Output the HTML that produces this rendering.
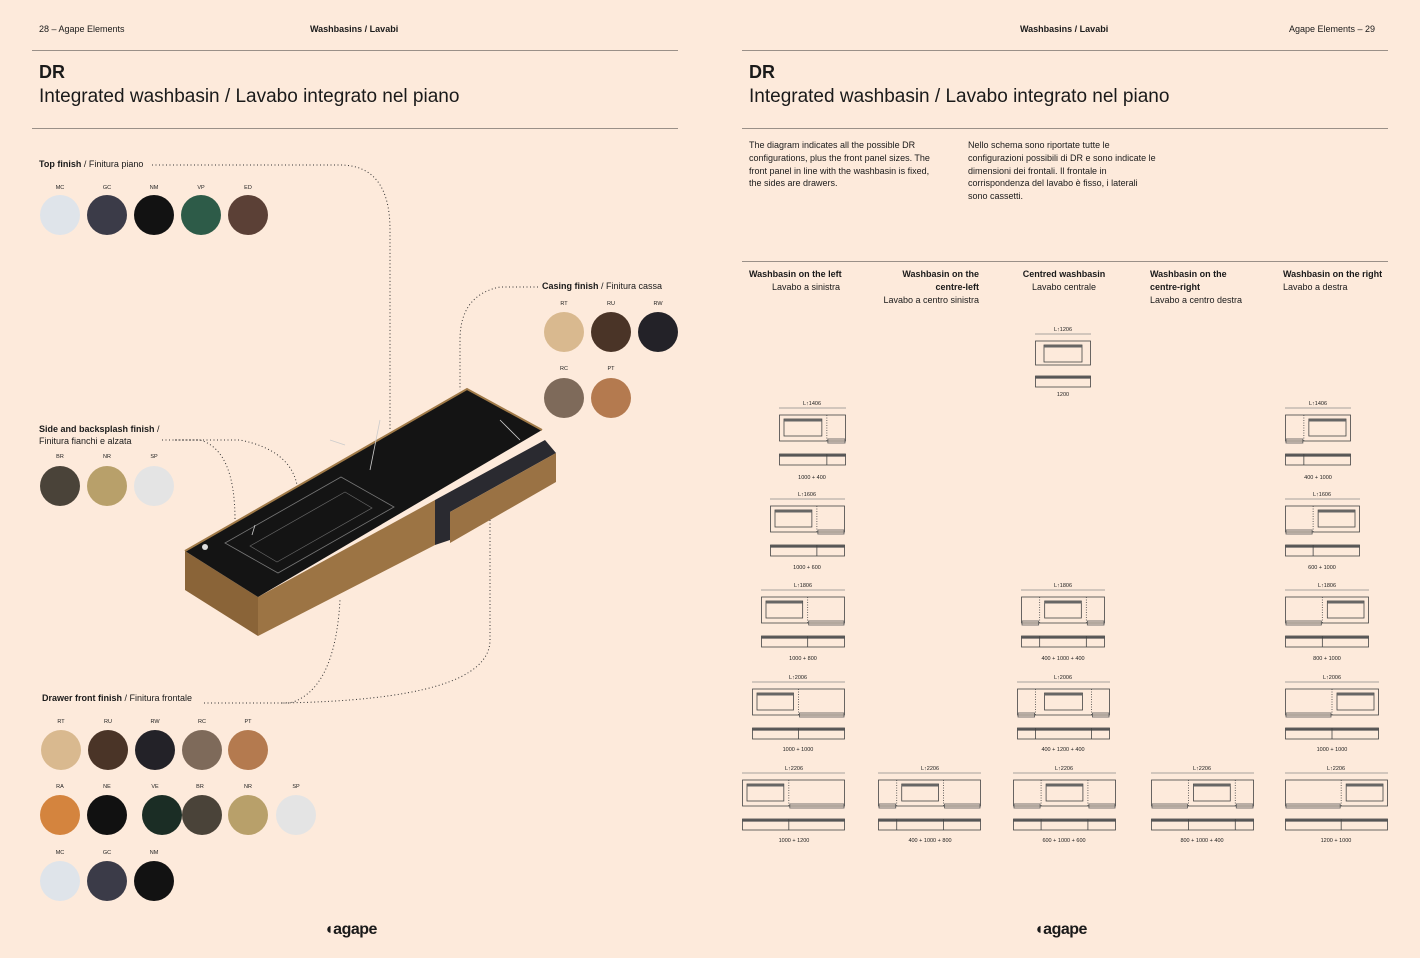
<!DOCTYPE html>
<html><head><meta charset="utf-8">
<style>
*{margin:0;padding:0;box-sizing:border-box}
body{width:1420px;height:958px;background:#fdeadb;font-family:"Liberation Sans",sans-serif;color:#1a1a1a;position:relative;overflow:hidden}
.t{position:absolute;white-space:nowrap}
.s9{font-size:9px}
.rule{position:absolute;height:1px;background:#9a9088}
.h1{font-size:18px;font-weight:bold}
.h2{font-size:19px;font-weight:normal}
.lab{font-size:9px}
.lab b{font-weight:bold}
.body{font-size:9px;line-height:13px;white-space:normal}
.sw{position:absolute;width:40px;height:40px;border-radius:50%}
.col{position:absolute;font-size:9px;line-height:13px}
.logo{font-size:16px;font-weight:bold;letter-spacing:-0.5px}
</style></head><body>

<div class="t s9" style="left:39px;top:24px">28 – Agape Elements</div>
<div class="t s9" style="left:310px;top:24px;font-weight:bold">Washbasins / Lavabi</div>
<div class="t s9" style="left:1020px;top:24px;font-weight:bold">Washbasins / Lavabi</div>
<div class="t s9" style="left:1289px;top:24px">Agape Elements – 29</div>
<div class="rule" style="left:32px;top:50px;width:646px"></div>
<div class="rule" style="left:742px;top:50px;width:646px"></div>
<div class="t h1" style="left:39px;top:62px">DR</div>
<div class="t h2" style="left:39px;top:86px">Integrated washbasin / Lavabo integrato nel piano</div>
<div class="t h1" style="left:749px;top:62px">DR</div>
<div class="t h2" style="left:749px;top:86px">Integrated washbasin / Lavabo integrato nel piano</div>
<div class="rule" style="left:32px;top:128px;width:646px"></div>
<div class="rule" style="left:742px;top:128px;width:646px"></div>

<div class="t body" style="left:749px;top:139px;width:190px;line-height:12.8px">The diagram indicates all the possible DR configurations, plus the front panel sizes. The front panel in line with the washbasin is fixed, the sides are drawers.</div>
<div class="t body" style="left:968px;top:139px;width:190px;line-height:12.8px">Nello schema sono riportate tutte le configurazioni possibili di DR e sono indicate le dimensioni dei frontali. Il frontale in corrispondenza del lavabo è fisso, i laterali sono cassetti.</div>
<div class="rule" style="left:742px;top:261px;width:646px"></div>

<div class="col" style="left:749px;top:268px"><b>Washbasin on the left</b><br><span style="padding-left:23px">Lavabo a sinistra</span></div>
<div class="col" style="left:878px;top:268px;text-align:right;width:101px"><b>Washbasin on the<br>centre-left</b><br>Lavabo a centro sinistra</div>
<div class="col" style="left:1010px;top:268px;text-align:center;width:108px"><b>Centred washbasin</b><br>Lavabo centrale</div>
<div class="col" style="left:1150px;top:268px"><b>Washbasin on the<br>centre-right</b><br>Lavabo a centro destra</div>
<div class="col" style="left:1283px;top:268px"><b>Washbasin on the right</b><br>Lavabo a destra</div>

<div class="t lab" style="left:39px;top:159px"><b>Top finish</b> / Finitura piano</div>
<div class="t lab" style="left:542px;top:281px"><b>Casing finish</b> / Finitura cassa</div>
<div class="t lab" style="left:39px;top:423px;line-height:12px"><b>Side and backsplash finish</b> /<br>Finitura fianchi e alzata</div>
<div class="t lab" style="left:42px;top:693px"><b>Drawer front finish</b> / Finitura frontale</div>

<div id="sw"></div>

<svg style="position:absolute;left:0;top:0" width="1420" height="958" id="svg">
<g fill="none" stroke="#333" stroke-width="1" stroke-dasharray="1,2.5">
<path d="M152 165 H340 Q390 165 390 230 V430"/>
<path d="M538 287 H500 Q460 295 460 340 V390"/>
<path d="M162 440 H200 Q235 450 235 520 V605"/>
<path d="M175 440 H240 Q290 450 297 485"/>
<path d="M204 703 H290 Q335 690 340 600"/>
<path d="M490 520 V640 Q490 700 280 703"/>
</g>
<polygon points="185,551 258,597 258,636 185,590" fill="#8a6438"/>
<polygon points="258,597 435,500 435,545 258,636" fill="#9c7444"/>
<polygon points="435,500 545,440 556,453 450,512 450,540 435,545" fill="#2a2a30"/>
<polygon points="450,512 556,453 556,482 450,543" fill="#9a7244"/>
<polygon points="185,551 467,389 542,430 258,597" fill="#141414"/>
<polyline points="185,551 467,389 542,430" fill="none" stroke="#a07a48" stroke-width="2"/>
<polygon points="225,543 341,477 394,507 278,573" fill="none" stroke="#777" stroke-width="0.8"/>
<polygon points="250,546 345,492 372,508 277,562" fill="none" stroke="#666" stroke-width="0.7"/>
<path d="M380 420 L370 470 M330 440 L345 445 M500 420 L520 440 M255 525 L252 535" stroke="#ccc" stroke-width="0.8"/>
<circle cx="205" cy="547" r="3" fill="#ddd"/>
<g id="sch" fill="none" stroke="#444" stroke-width="0.8"></g>
<g font-family="Liberation Sans,sans-serif" font-size="5.5" fill="#222" text-anchor="middle">
<text x="812" y="405">L↑1406</text><text x="812" y="479">1000 + 400</text>
<text x="807" y="496">L↑1606</text><text x="807" y="569">1000 + 600</text>
<text x="803" y="587">L↑1806</text><text x="803" y="660">1000 + 800</text>
<text x="798" y="679">L↑2006</text><text x="798" y="751">1000 + 1000</text>
<text x="794" y="770">L↑2206</text><text x="794" y="842">1000 + 1200</text>
<text x="930" y="770">L↑2206</text><text x="930" y="842">400 + 1000 + 800</text>
<text x="1063" y="331">L↑1206</text><text x="1063" y="396">1200</text>
<text x="1063" y="587">L↑1806</text><text x="1063" y="660">400 + 1000 + 400</text>
<text x="1063" y="679">L↑2006</text><text x="1063" y="751">400 + 1200 + 400</text>
<text x="1064" y="770">L↑2206</text><text x="1064" y="842">600 + 1000 + 600</text>
<text x="1202" y="770">L↑2206</text><text x="1202" y="842">800 + 1000 + 400</text>
<text x="1318" y="405">L↑1406</text><text x="1318" y="479">400 + 1000</text>
<text x="1322" y="496">L↑1606</text><text x="1322" y="569">600 + 1000</text>
<text x="1327" y="587">L↑1806</text><text x="1327" y="660">800 + 1000</text>
<text x="1332" y="679">L↑2006</text><text x="1332" y="751">1000 + 1000</text>
<text x="1336" y="770">L↑2206</text><text x="1336" y="842">1200 + 1000</text>
</g>
<g font-family="Liberation Sans,sans-serif" font-size="5.5" fill="#222" text-anchor="middle">
<text x="60" y="189">MC</text><text x="107" y="189">GC</text><text x="154" y="189">NM</text><text x="201" y="189">VP</text><text x="248" y="189">ED</text>
<text x="564" y="305">RT</text><text x="611" y="305">RU</text><text x="658" y="305">RW</text>
<text x="564" y="370">RC</text><text x="611" y="370">PT</text>
<text x="60" y="458">BR</text><text x="107" y="458">NR</text><text x="154" y="458">SP</text>
<text x="61" y="723">RT</text><text x="108" y="723">RU</text><text x="155" y="723">RW</text><text x="202" y="723">RC</text><text x="248" y="723">PT</text>
<text x="60" y="788">RA</text><text x="107" y="788">NE</text><text x="155" y="788">VE</text><text x="200" y="788">BR</text><text x="248" y="788">NR</text><text x="296" y="788">SP</text>
<text x="60" y="854">MC</text><text x="107" y="854">GC</text><text x="154" y="854">NM</text>
</g>
</svg>

<div class="t logo" style="left:324px;top:921px">◖agape</div>
<div class="t logo" style="left:1034px;top:921px">◖agape</div>

<script>
var sw=[[60,215,'#dfe4ea'],[107,215,'#3b3b48'],[154,215,'#121212'],[201,215,'#2d5b48'],[248,215,'#5b4036'],
[564,332,'#d9b98f'],[611,332,'#4a3427'],[658,332,'#232228'],[564,398,'#7e6a5a'],[611,398,'#b47a4f'],
[60,486,'#4a4339'],[107,486,'#b8a06a'],[154,486,'#e4e4e4'],
[61,750,'#d9b98f'],[108,750,'#4a3427'],[155,750,'#232228'],[202,750,'#7e6a5a'],[248,750,'#b47a4f'],
[60,815,'#d4843e'],[107,815,'#111'],[162,815,'#1b2d25'],[202,815,'#4a4339'],[248,815,'#b8a06a'],[296,815,'#e4e4e4'],
[60,881,'#dfe4ea'],[107,881,'#3b3b48'],[154,881,'#121212']];
var h='';sw.forEach(function(s){h+='<div class="sw" style="left:'+(s[0]-20)+'px;top:'+(s[1]-20)+'px;background:'+s[2]+'"></div>';});
document.getElementById('sw').innerHTML=h;
var NS='http://www.w3.org/2000/svg',g=document.getElementById('sch');
function el(t,a){var e=document.createElementNS(NS,t);for(var k in a)e.setAttribute(k,a[k]);g.appendChild(e);return e;}
var C=[
[779,846,408,[1000,400],0],[770,845,499,[1000,600],0],[761,845,590,[1000,800],0],[752,845,682,[1000,1000],0],[742,845,773,[1000,1200],0],
[878,981,773,[400,1000,800],1],
[1035,1091,334,[1200],0],[1021,1105,590,[400,1000,400],1],[1017,1110,682,[400,1200,400],1],[1013,1116,773,[600,1000,600],1],
[1151,1254,773,[800,1000,400],1],
[1285,1351,408,[400,1000],1],[1285,1360,499,[600,1000],1],[1285,1369,590,[800,1000],1],[1285,1379,682,[1000,1000],1],[1285,1388,773,[1200,1000],1]];
C.forEach(function(c){
 var x0=c[0],x1=c[1],y=c[2],seg=c[3],si=c[4],tot=seg.reduce(function(a,b){return a+b},0),sc=(x1-x0)/tot;
 el('line',{x1:x0,y1:y,x2:x1,y2:y,stroke:'#888'});
 var ty=y+7,th=(seg.length==1&&tot==1200)?24:26;
 el('rect',{x:x0+0.5,y:ty,width:x1-x0-1,height:th});
 var fy=ty+th+13; if(y==334)fy=ty+th+11;
 el('rect',{x:x0+0.5,y:fy,width:x1-x0-1,height:11});
 el('line',{x1:x0,y1:fy+1.5,x2:x1,y2:fy+1.5,'stroke-width':2.2,stroke:'#555'});
 var xs=x0;
 seg.forEach(function(w,i){
  var sw_=w*sc;
  if(i==si){var iw=Math.min(38,sw_-10),ix=xs+(sw_-iw)/2;
   el('rect',{x:ix,y:ty+4,width:iw,height:17});
   el('line',{x1:ix,y1:ty+5.5,x2:ix+iw,y2:ty+5.5,'stroke-width':2,stroke:'#666'});}
  else{el('rect',{x:xs+1,y:ty+th-2,width:sw_-2,height:4,stroke:'#555'});}
  if(i>0){el('line',{x1:xs,y1:ty,x2:xs,y2:ty+th,'stroke-dasharray':'1,1.5'});
   el('line',{x1:xs,y1:fy,x2:xs,y2:fy+11});}
  xs+=sw_;
 });
});
</script>
</body></html>
